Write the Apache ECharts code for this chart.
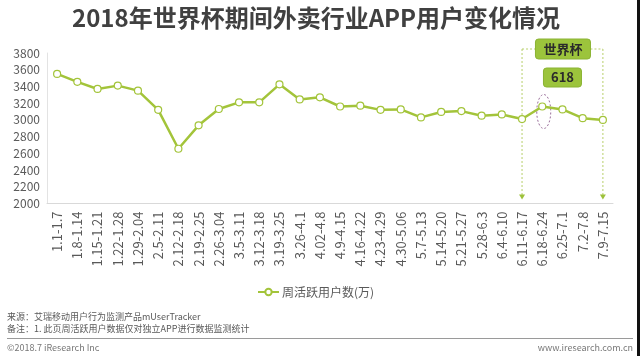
<!DOCTYPE html>
<html><head><meta charset="utf-8">
<script src="https://cdn.jsdelivr.net/npm/echarts@6/dist/echarts.min.js"></script>
<style>html,body{margin:0;padding:0;background:#fff}#c{width:640px;height:356px}</style>
</head><body><div id="c"></div>
<script>
const categories = ['1.1-1.7','1.8-1.14','1.15-1.21','1.22-1.28','1.29-2.04','2.5-2.11','2.12-2.18','2.19-2.25','2.26-3.04','3.5-3.11','3.12-3.18','3.19-3.25','3.26-4.1','4.02-4.8','4.9-4.15','4.16-4.22','4.23-4.29','4.30-5.06','5.7-5.13','5.14-5.20','5.21-5.27','5.28-6.3','6.4-6.10','6.11-6.17','6.18-6.24','6.25-7.1','7.2-7.8','7.9-7.15'];
const weeklyActive = [3550,3455,3370,3410,3350,3120,2655,2935,3130,3210,3210,3425,3245,3270,3160,3170,3120,3125,3030,3095,3105,3050,3065,3010,3160,3125,3020,3000];
const seriesName = '周活跃用户数(万)';
const yTicks = {min:2000, max:3800, interval:200};
const worldCupStart = '6.11-6.17', worldCupEnd = '7.9-7.15', point618 = '6.18-6.24';
const titleText = '2018年世界杯期间外卖行业APP用户变化情况';
const sourceText = '来源：艾瑞移动用户行为监测产品mUserTracker';
const noteText = '备注：1. 此页周活跃用户数据仅对独立APP进行数据监测统计';

const green = '#a3c43a';
const font = '"Noto Sans CJK SC", "Noto Sans", sans-serif';
const chart = echarts.init(document.getElementById('c'));
chart.setOption({
  animation:false,
  textStyle:{fontFamily:font},
  title:{text:titleText, left:72, top:6, padding:0, textStyle:{fontSize:24, fontWeight:'bold', color:'#404040', fontFamily:font}},
  grid:{left:47, right:27, top:53, bottom:152.5},
  legend:{data:[seriesName], left:257, top:286, padding:0, itemWidth:21, itemHeight:8, itemGap:2,
    textStyle:{fontSize:12, color:'#595959', padding:[0,0,0,-2]}},
  xAxis:{type:'category', data:categories, boundaryGap:true,
    axisLine:{lineStyle:{color:'#d9d9d9'}}, axisTick:{show:false},
    axisLabel:{rotate:90, interval:0, fontSize:13, color:'#595959', margin:8}},
  yAxis:{type:'value', min:yTicks.min, max:yTicks.max, interval:yTicks.interval,
    axisLine:{show:true, lineStyle:{color:'#e3e3e3'}}, axisTick:{show:false}, splitLine:{show:false},
    axisLabel:{fontSize:12, color:'#595959', margin:7, formatter:v=>String(v)}},
  series:[{name:seriesName, type:'line', data:weeklyActive, symbol:'circle', symbolSize:7,
    lineStyle:{color:green, width:2.5}, itemStyle:{color:'#fff', borderColor:green, borderWidth:1.2}}]
});

function px(cat, val){ return chart.convertToPixel({gridIndex:0}, [cat, val]); }
const gridTop = 53;
const a = px(worldCupStart, yTicks.max), b = px(worldCupEnd, yTicks.max);
const bottomY = px(worldCupStart, yTicks.min)[1];
const mid = (a[0]+b[0])/2;
const p618 = px(point618, weeklyActive[categories.indexOf(point618)]);
const dash = {stroke:'#b7cf6a', lineWidth:1, lineDash:[2,2]};
const topY = gridTop - 4;
const graphics = [
  {type:'line', shape:{x1:a[0], y1:topY, x2:a[0], y2:bottomY-7}, style:dash},
  {type:'line', shape:{x1:b[0], y1:topY, x2:b[0], y2:bottomY-7}, style:dash},
  {type:'line', shape:{x1:a[0], y1:topY, x2:mid-27, y2:topY}, style:dash},
  {type:'line', shape:{x1:mid+28, y1:topY, x2:b[0], y2:topY}, style:dash},
  {type:'polygon', shape:{points:[[a[0]-3,bottomY-9],[a[0]+3,bottomY-9],[a[0],bottomY-4]]}, style:{fill:'#9dc13a'}},
  {type:'polygon', shape:{points:[[b[0]-3,bottomY-9],[b[0]+3,bottomY-9],[b[0],bottomY-4]]}, style:{fill:'#9dc13a'}},
  {type:'rect', shape:{x:mid-27, y:topY-10, width:55, height:20, r:3}, style:{fill:'#9cc43c', stroke:'#8ab332', lineWidth:1}},
  {type:'text', style:{x:mid+0.5, y:topY, text:'世界杯', fill:'#2b2b2b', font:'bold 13px '+font, textAlign:'center', textVerticalAlign:'middle'}},
  {type:'rect', shape:{x:mid-19, y:topY+19, width:38, height:19, r:3}, style:{fill:'#9cc43c', stroke:'#8ab332', lineWidth:1}},
  {type:'text', style:{x:mid, y:topY+28.5, text:'618', fill:'#2b2b2b', font:'bold 13px '+font, textAlign:'center', textVerticalAlign:'middle'}},
  {type:'ellipse', shape:{cx:p618[0]+1.5, cy:p618[1]+5, rx:7, ry:17}, style:{fill:null, stroke:'#9a6f9a', lineWidth:1, lineDash:[2,2]}},
  {type:'text', style:{x:7, y:317, text:sourceText, fill:'#595959', font:'9px '+font, textVerticalAlign:'middle'}},
  {type:'text', style:{x:7, y:329, text:noteText, fill:'#595959', font:'9px '+font, textVerticalAlign:'middle'}},
  {type:'line', shape:{x1:7, y1:338.5, x2:633, y2:338.5}, style:{stroke:'#9a9a9a', lineWidth:1}},
  {type:'text', style:{x:7, y:347.5, text:'©2018.7 iResearch Inc', fill:'#777', font:'9px '+font, textVerticalAlign:'middle'}},
  {type:'text', style:{x:633, y:347.5, text:'www.iresearch.com.cn', fill:'#777', font:'9px '+font, textAlign:'right', textVerticalAlign:'middle'}},
  {type:'rect', shape:{x:637, y:0, width:3, height:356}, style:{fill:'#111'}}
];
chart.setOption({graphic:graphics});
</script></body></html>
